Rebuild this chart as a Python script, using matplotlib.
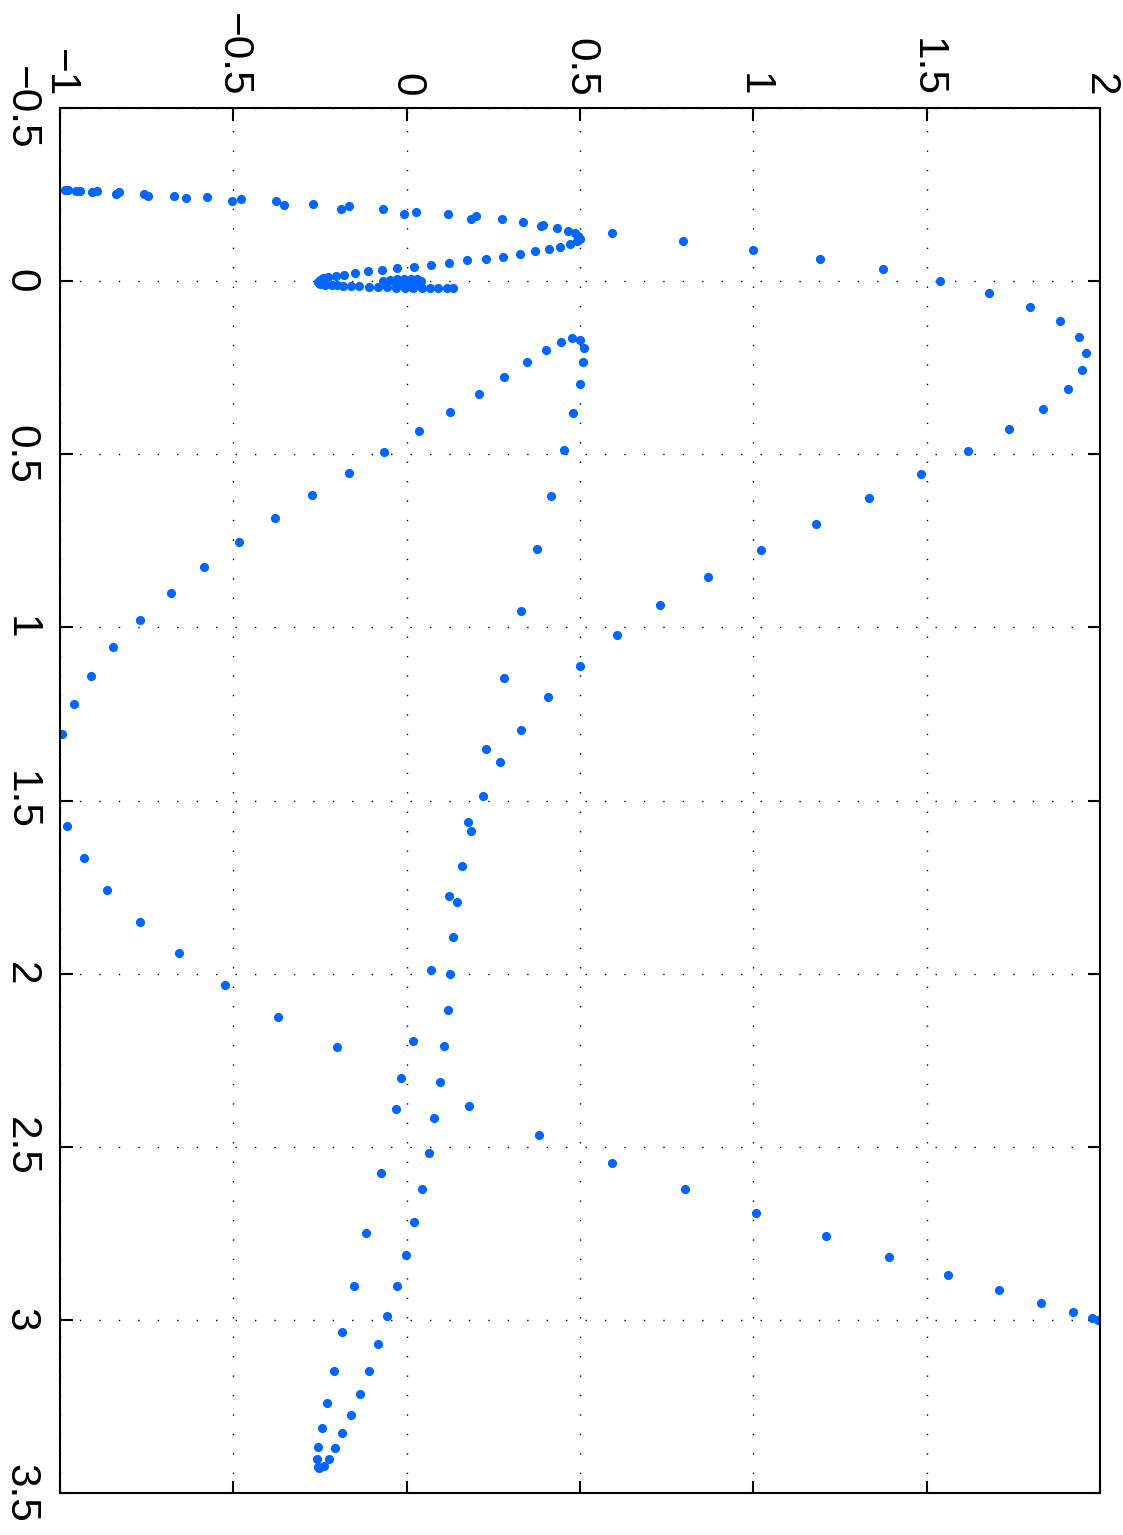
#!/usr/bin/env python3
"""
Rotated scatter of a sampled trajectory (landscape page printed on portrait)
"""

import matplotlib
matplotlib.use('Agg')
import matplotlib.pyplot as plt

# data: x runs down the page (-0.5..3.5), y runs across (-1..2)
# top branch, from y=-1 out to the tip near y=0.5
top_x = [-0.263, -0.263, -0.261, -0.261, -0.258, -0.259, -0.252, -0.256, -0.252, -0.246,
         -0.247, -0.239, -0.242, -0.231, -0.236, -0.231, -0.220, -0.224, -0.209, -0.217,
         -0.209, -0.193, -0.201, -0.194, -0.178, -0.187, -0.178, -0.170, -0.159, -0.162,
         -0.153, -0.146, -0.138, -0.130, -0.123, -0.116, -0.106]
top_y = [-0.986, -0.976, -0.955, -0.942, -0.909, -0.894, -0.839, -0.830, -0.757, -0.747,
         -0.671, -0.637, -0.577, -0.505, -0.479, -0.376, -0.355, -0.271, -0.190, -0.167,
         -0.067, -0.008, 0.027, 0.118, 0.185, 0.200, 0.274, 0.337, 0.387, 0.393,
         0.434, 0.466, 0.485, 0.495, 0.500, 0.492, 0.471]

# branch coming back towards the origin
back_x = [-0.099, -0.092, -0.086, -0.079, -0.071, -0.064, -0.060, -0.053, -0.047, -0.042,
          -0.038, -0.033, -0.028, -0.023, -0.018, -0.014, -0.012, -0.008, -0.003, 0.002,
          0.007, 0.010, 0.012, 0.012, 0.014, 0.014, 0.015, 0.016, 0.017, 0.016]
back_y = [0.443, 0.411, 0.371, 0.327, 0.278, 0.228, 0.175, 0.122, 0.070, 0.020,
          -0.027, -0.072, -0.112, -0.148, -0.180, -0.205, -0.226, -0.241, -0.250, -0.255,
          -0.250, -0.236, -0.216, -0.202, -0.183, -0.161, -0.137, -0.109, -0.082, -0.056]

# dense knot near the origin and its short tail
knot_x = [0.000, -0.003, -0.006, -0.007, -0.007, -0.006, -0.001, 0.006, 0.010, 0.012,
          0.009, 0.003, 0.001, 0.003, 0.006,
          0.019, 0.020, 0.020, 0.020, 0.020, 0.020, 0.020, 0.021]
knot_y = [-0.068, -0.048, -0.028, -0.008, 0.012, 0.030, 0.041, 0.033, 0.012, -0.011,
          -0.031, -0.019, 0.001, 0.018, 0.007,
          -0.031, -0.005, 0.018, 0.043, 0.067, 0.090, 0.115, 0.134]

# big loop out to y=2 and back down the middle
outer_x = [-0.139, -0.116, -0.091, -0.063, -0.034, 0.000, 0.035, 0.075, 0.115, 0.160,
           0.208, 0.258, 0.311, 0.369, 0.428, 0.491, 0.558, 0.627, 0.701, 0.777,
           0.855, 0.936, 1.022, 1.111, 1.202, 1.295, 1.389, 1.488, 1.588, 1.689,
           1.792, 1.895, 2.001, 2.105, 2.210, 2.314]
outer_y = [0.592, 0.796, 0.998, 1.193, 1.375, 1.538, 1.680, 1.798, 1.885, 1.939,
           1.960, 1.948, 1.907, 1.835, 1.738, 1.620, 1.484, 1.335, 1.180, 1.022,
           0.870, 0.730, 0.607, 0.499, 0.407, 0.331, 0.269, 0.221, 0.186, 0.160,
           0.144, 0.134, 0.126, 0.118, 0.108, 0.097]

# small inner loop near y=0.5
inner_x = [0.434, 0.379, 0.325, 0.277, 0.233, 0.199, 0.175, 0.165, 0.169, 0.193,
           0.235, 0.297, 0.382, 0.488, 0.620, 0.774, 0.952, 1.146, 1.350, 1.563,
           1.776, 1.989, 2.196, 2.301, 2.392]
inner_y = [0.035, 0.125, 0.209, 0.282, 0.348, 0.402, 0.445, 0.478, 0.500, 0.511,
           0.509, 0.499, 0.481, 0.453, 0.417, 0.377, 0.331, 0.282, 0.230, 0.177,
           0.122, 0.069, 0.018, -0.017, -0.031]

# left swing out to y=-1
left_x = [0.493, 0.553, 0.618, 0.685, 0.754, 0.826, 0.901, 0.978, 1.057, 1.139,
          1.222, 1.309, 1.575, 1.666, 1.758, 1.850, 1.941, 2.033, 2.124, 2.212]
left_y = [-0.064, -0.166, -0.272, -0.379, -0.483, -0.585, -0.681, -0.768, -0.846, -0.911,
          -0.961, -0.995, -0.980, -0.931, -0.864, -0.770, -0.658, -0.525, -0.371, -0.202]

# bottom part: two interleaved strands and the run out to y=2
bottom_x = [2.416, 2.383, 2.466, 2.518, 2.546, 2.577, 2.621, 2.621, 2.692, 2.718,
            2.749, 2.758, 2.813, 2.817, 2.870, 2.903, 2.903, 2.914, 2.950, 2.978,
            2.995, 3.001, 2.990, 3.036, 3.071, 3.148, 3.148, 3.215, 3.240, 3.275,
            3.313, 3.327, 3.366, 3.371, 3.402, 3.402, 3.424, 3.421, 3.429]
bottom_y = [0.080, 0.179, 0.382, 0.064, 0.592, -0.074, 0.044, 0.802, 1.009, 0.021,
            -0.117, 1.211, -0.003, 1.392, 1.562, -0.153, -0.029, 1.709, 1.830, 1.921,
            1.977, 1.995, -0.056, -0.186, -0.083, -0.211, -0.109, -0.136, -0.230, -0.162,
            -0.245, -0.186, -0.256, -0.206, -0.259, -0.224, -0.256, -0.239, -0.252]

x_ticks = [-0.5, 0, 0.5, 1, 1.5, 2, 2.5, 3, 3.5]
y_ticks = [-1, -0.5, 0, 0.5, 1, 1.5, 2]


def fmt(v):
    s = ('%g' % v)
    return s.replace('-', '\u2212')


def create_chart():
    plt.rcParams['font.family'] = ['Liberation Sans', 'DejaVu Sans']

    fig = plt.figure(figsize=(11.23, 15.35), dpi=100)
    ax = fig.add_axes([60 / 1123, 42 / 1535, 1040 / 1123, 1385 / 1535])

    xs = top_x + back_x + knot_x + outer_x + inner_x + left_x + bottom_x
    ys = top_y + back_y + knot_y + outer_y + inner_y + left_y + bottom_y

    # page is turned: data y goes across, data x goes down
    ax.plot(ys, xs, 'o', color='#0066ff', markersize=6.6, markeredgewidth=0)

    ax.set_xlim(-1, 2)
    ax.set_ylim(3.5, -0.5)

    ax.set_xticks(y_ticks)
    ax.set_xticklabels([fmt(v) for v in y_ticks])
    ax.set_yticks(x_ticks)
    ax.set_yticklabels([fmt(v) for v in x_ticks])

    ax.tick_params(axis='x', which='both', direction='in', top=True, bottom=True,
                   labeltop=True, labelbottom=False, length=9, width=1.5,
                   labelsize=30.5, pad=8)
    ax.tick_params(axis='y', which='both', direction='in', left=True, right=True,
                   labelleft=True, labelright=False, length=9, width=1.5,
                   labelsize=30.5, pad=14)

    for lab in ax.get_xticklabels():
        lab.set_rotation(-90)
        lab.set_ha('center')
        lab.set_va('bottom')
    for lab in ax.get_yticklabels():
        lab.set_rotation(-90)
        lab.set_ha('right')
        lab.set_va('center')

    ax.grid(True, color='black', linestyle=(0, (1, 13)), linewidth=1.0)
    ax.set_axisbelow(True)
    for sp in ax.spines.values():
        sp.set_linewidth(1.5)

    fig.savefig('out.png', dpi=100)


if __name__ == "__main__":
    create_chart()
